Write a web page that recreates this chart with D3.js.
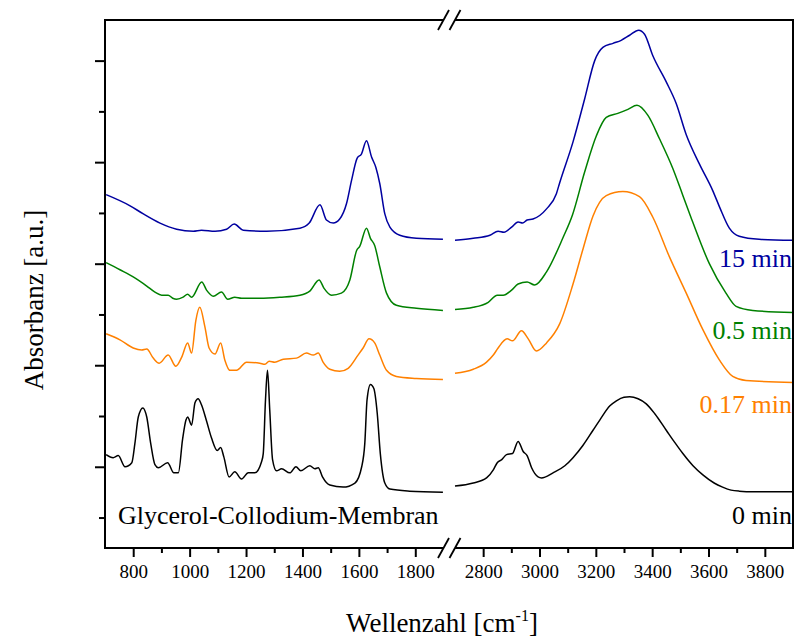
<!DOCTYPE html>
<html>
<head>
<meta charset="utf-8">
<script src="https://cdn.jsdelivr.net/npm/d3@7"></script>
<style>
  body { margin: 0; background: #fff; }
  svg { display: block; }
  text { font-family: "Liberation Serif", "Times New Roman", serif; }
</style>
</head>
<body>
<svg id="chart" width="795" height="641"></svg>
<script>
// Broken wavenumber axis: fingerprint window and OH/CH stretch window
const lowRange = [700, 1900];
const highRange = [2700, 3900];
const lowMajorTicks = [800, 1000, 1200, 1400, 1600, 1800];
const lowMinorTicks = [900, 1100, 1300, 1500, 1700];
const highMajorTicks = [2800, 3000, 3200, 3400, 3600, 3800];
const highMinorTicks = [2900, 3100, 3300, 3500, 3700];
const yMajorTicks = [0, 1, 2, 3, 4];
const yMinorTicks = [-0.5, 0.5, 1.5, 2.5, 3.5];

const seriesLabels = ["0 min", "0.17 min", "0.5 min", "15 min"];
const seriesColors = ["#000000", "#ff8000", "#008000", "#0000a0"];

// Spectra as [wavenumber (cm^-1), absorbance (a.u., stacked)]
const spec0Low = [
  [704,0.12],[729,0.09],[747,0.11],[771,0.00],[795,0.04],[806,0.23],[818,0.49],[834,0.58],
  [848,0.49],[862,0.23],[877,0.02],[889,-0.01],[922,0.04],[944,-0.06],[960,-0.06],[975,0.27],
  [987,0.46],[993,0.49],[1007,0.41],[1019,0.63],[1030,0.67],[1042,0.61],[1060,0.45],[1078,0.28],
  [1098,0.16],[1110,0.19],[1121,0.10],[1140,-0.10],[1160,-0.05],[1184,-0.12],[1208,-0.06],
  [1231,-0.06],[1255,0.05],[1261,0.13],[1269,0.66],[1276,0.95],[1284,0.56],[1294,0.07],
  [1308,-0.04],[1326,-0.02],[1355,-0.06],[1377,0.00],[1394,-0.04],[1426,0.01],[1444,-0.02],
  [1456,-0.01],[1471,-0.10],[1497,-0.18],[1544,-0.20],[1586,-0.16],[1610,0.00],[1621,0.23],
  [1629,0.66],[1641,0.81],[1653,0.77],[1665,0.53],[1676,0.13],[1692,-0.16],[1710,-0.22],
  [1780,-0.24],[1898,-0.25]
];
const spec0High = [
  [2700,-0.19],[2765,-0.16],[2812,-0.11],[2836,-0.03],[2850,0.04],[2866,0.07],[2883,0.12],
  [2904,0.13],[2924,0.25],[2942,0.15],[2956,0.11],[2972,-0.01],[2995,-0.10],[3007,-0.11],
  [3048,-0.06],[3090,0.01],[3119,0.09],[3154,0.21],[3190,0.36],[3214,0.46],[3250,0.60],
  [3273,0.65],[3300,0.685],[3320,0.69],[3350,0.67],[3379,0.62],[3410,0.52],[3450,0.36],
  [3480,0.24],[3509,0.13],[3545,0.01],[3580,-0.08],[3620,-0.16],[3650,-0.20],[3680,-0.23],
  [3709,-0.24],[3760,-0.245],[3900,-0.245]
];
const spec017Low = [
  [704,1.31],[753,1.25],[800,1.17],[830,1.15],[848,1.16],[871,1.07],[892,1.02],[924,1.10],
  [951,0.99],[972,1.08],[993,1.22],[1007,1.12],[1022,1.44],[1036,1.57],[1054,1.38],[1069,1.17],
  [1090,1.11],[1110,1.22],[1125,1.05],[1143,0.95],[1166,0.95],[1202,1.03],[1249,1.02],
  [1267,1.01],[1282,1.04],[1302,1.03],[1332,1.06],[1379,1.07],[1414,1.12],[1438,1.10],
  [1456,1.12],[1473,1.03],[1497,0.96],[1532,0.94],[1562,0.97],[1597,1.10],[1615,1.17],
  [1636,1.26],[1656,1.22],[1674,1.10],[1698,0.95],[1733,0.89],[1804,0.87],[1898,0.86]
];
const spec017High = [
  [2700,0.92],[2765,0.96],[2812,1.03],[2836,1.10],[2853,1.17],[2885,1.26],[2904,1.24],
  [2936,1.34],[2960,1.26],[2989,1.14],[3025,1.22],[3072,1.41],[3119,1.80],[3155,2.15],
  [3190,2.47],[3237,2.67],[3296,2.71],[3355,2.66],[3402,2.46],[3461,2.07],[3521,1.71],
  [3580,1.35],[3639,1.05],[3686,0.89],[3733,0.85],[3900,0.83]
];
const spec05Low = [
  [704,2.01],[753,1.94],[800,1.87],[848,1.78],[877,1.72],[901,1.69],[924,1.69],[940,1.66],
  [954,1.65],[977,1.67],[993,1.70],[1007,1.67],[1043,1.82],[1060,1.74],[1084,1.68],[1113,1.72],
  [1135,1.65],[1160,1.67],[1184,1.66],[1249,1.66],[1320,1.67],[1391,1.69],[1426,1.73],
  [1459,1.84],[1476,1.76],[1503,1.69],[1538,1.71],[1568,1.84],[1592,2.13],[1603,2.17],
  [1627,2.35],[1641,2.25],[1656,2.18],[1674,1.97],[1698,1.71],[1733,1.59],[1804,1.56],[1898,1.54]
];
const spec05High = [
  [2700,1.55],[2765,1.57],[2818,1.62],[2850,1.69],[2871,1.69],[2901,1.74],[2924,1.80],
  [2956,1.82],[2983,1.79],[3025,1.92],[3084,2.26],[3117,2.48],[3160,2.90],[3202,3.26],
  [3237,3.44],[3278,3.48],[3314,3.52],[3346,3.56],[3385,3.46],[3426,3.23],[3473,2.94],
  [3508,2.68],[3544,2.41],[3603,2.00],[3662,1.71],[3698,1.58],[3757,1.54],[3900,1.52]
];
const spec15Low = [
  [704,2.68],[789,2.57],[836,2.49],[895,2.40],[954,2.34],[1013,2.32],[1042,2.33],[1090,2.32],
  [1131,2.34],[1158,2.39],[1190,2.33],[1273,2.32],[1391,2.35],[1424,2.40],[1462,2.58],
  [1485,2.43],[1509,2.40],[1532,2.44],[1556,2.59],[1574,2.82],[1594,3.04],[1609,3.08],
  [1627,3.21],[1645,3.05],[1660,2.95],[1674,2.79],[1692,2.49],[1710,2.36],[1745,2.28],
  [1804,2.25],[1898,2.24]
];
const spec15High = [
  [2700,2.23],[2765,2.25],[2824,2.28],[2853,2.32],[2874,2.31],[2901,2.36],[2924,2.41],
  [2940,2.40],[2956,2.43],[2977,2.44],[3025,2.54],[3060,2.69],[3072,2.80],[3119,3.20],
  [3160,3.62],[3196,4.00],[3225,4.13],[3261,4.17],[3290,4.20],[3320,4.25],[3352,4.30],
  [3373,4.26],[3402,4.05],[3450,3.79],[3485,3.58],[3521,3.27],[3568,2.98],[3615,2.72],
  [3639,2.56],[3674,2.35],[3709,2.27],[3780,2.24],[3900,2.23]
];

const spectra = [
  { low: spec0Low, high: spec0High },
  { low: spec017Low, high: spec017High },
  { low: spec05Low, high: spec05High },
  { low: spec15Low, high: spec15High }
];

// Plot frame
const frameLeft = 105, frameRight = 793, frameTop = 20, frameBottom = 548;
const gapStart = 443.5, gapEnd = 455;
const serif = '"Liberation Serif", "Times New Roman", serif';

const svg = d3.select("#chart");

const xLow = d3.scaleLinear().domain(lowRange).range([frameLeft, gapStart]);
const xHigh = d3.scaleLinear().domain(highRange).range([gapEnd, frameRight]);
const y = d3.scaleLinear().domain([-0.8, 4.4]).range([frameBottom, frameTop]);

// Curves
const plot = svg.append("g");
spectra.forEach((s, i) => {
  [[s.low, xLow], [s.high, xHigh]].forEach(([pts, xs]) => {
    const line = d3.line()
      .x(d => xs(d[0]))
      .y(d => y(d[1]))
      .curve(d3.curveMonotoneX);
    plot.append("path")
      .datum(pts)
      .attr("d", line)
      .attr("fill", "none")
      .attr("stroke", seriesColors[i])
      .attr("stroke-width", 1.5)
      .attr("stroke-linejoin", "round");
  });
});

// Frame with breaks
const frame = svg.append("g")
  .attr("fill", "none")
  .attr("stroke", "#000")
  .attr("stroke-width", 2);
frame.append("path").attr("d",
  `M${frameLeft},${frameTop}V${frameBottom}` +
  `M${frameRight},${frameTop}V${frameBottom}` +
  `M${frameLeft - 1},${frameTop}H${gapStart}M${gapEnd},${frameTop}H${frameRight + 1}` +
  `M${frameLeft - 1},${frameBottom}H${gapStart}M${gapEnd},${frameBottom}H${frameRight + 1}`);

// Break marks "//"
[frameTop, frameBottom].forEach(yy => {
  [gapStart, gapEnd].forEach(xx => {
    frame.append("line")
      .attr("x1", xx - 5.5).attr("y1", yy + 10)
      .attr("x2", xx + 5.5).attr("y2", yy - 10)
      .attr("stroke-width", 1.8);
  });
});

// Axes
function styleAxis(g) {
  g.select(".domain").remove();
  g.attr("font-family", serif);
  g.selectAll(".tick line").attr("stroke", "#000").attr("stroke-width", 2);
  g.selectAll(".tick text")
    .attr("fill", "#000")
    .attr("font-family", serif)
    .style("font-size", "19px");
}

[[xLow, lowMajorTicks, lowMinorTicks], [xHigh, highMajorTicks, highMinorTicks]].forEach(([xs, maj, min]) => {
  svg.append("g")
    .attr("transform", `translate(0,${frameBottom})`)
    .call(d3.axisBottom(xs).tickValues(maj).tickSize(9).tickPadding(8).tickFormat(d3.format("d")))
    .call(styleAxis);
  svg.append("g")
    .attr("transform", `translate(0,${frameBottom})`)
    .call(d3.axisBottom(xs).tickValues(min).tickSize(5).tickFormat(""))
    .call(styleAxis);
});

svg.append("g")
  .attr("transform", `translate(${frameLeft},0)`)
  .call(d3.axisLeft(y).tickValues(yMajorTicks).tickSize(10).tickFormat(""))
  .call(styleAxis);
svg.append("g")
  .attr("transform", `translate(${frameLeft},0)`)
  .call(d3.axisLeft(y).tickValues(yMinorTicks).tickSize(6).tickFormat(""))
  .call(styleAxis);

// Axis titles
const xTitle = svg.append("text")
  .attr("x", 442).attr("y", 632)
  .attr("text-anchor", "middle")
  .attr("font-family", serif)
  .style("font-size", "27px")
  .attr("fill", "#000");
xTitle.append("tspan").text("Wellenzahl [cm");
xTitle.append("tspan").attr("dy", -11).style("font-size", "16px").text("-1");
xTitle.append("tspan").attr("dy", 11).text("]");

svg.append("text")
  .attr("transform", "translate(43,300) rotate(-90)")
  .attr("text-anchor", "middle")
  .attr("font-family", serif)
  .style("font-size", "27px")
  .attr("fill", "#000")
  .text("Absorbanz [a.u.]");

// Series labels
const labelBaselines = [524, 413, 339, 267];
seriesLabels.forEach((t, i) => {
  svg.append("text")
    .attr("x", 792).attr("y", labelBaselines[i])
    .attr("text-anchor", "end")
    .attr("font-family", serif)
    .style("font-size", "26px")
    .attr("fill", seriesColors[i])
    .text(t);
});

svg.append("text")
  .attr("x", 118).attr("y", 524)
  .attr("font-family", serif)
  .style("font-size", "26px")
  .attr("fill", "#000")
  .text("Glycerol-Collodium-Membran");
</script>
</body>
</html>
